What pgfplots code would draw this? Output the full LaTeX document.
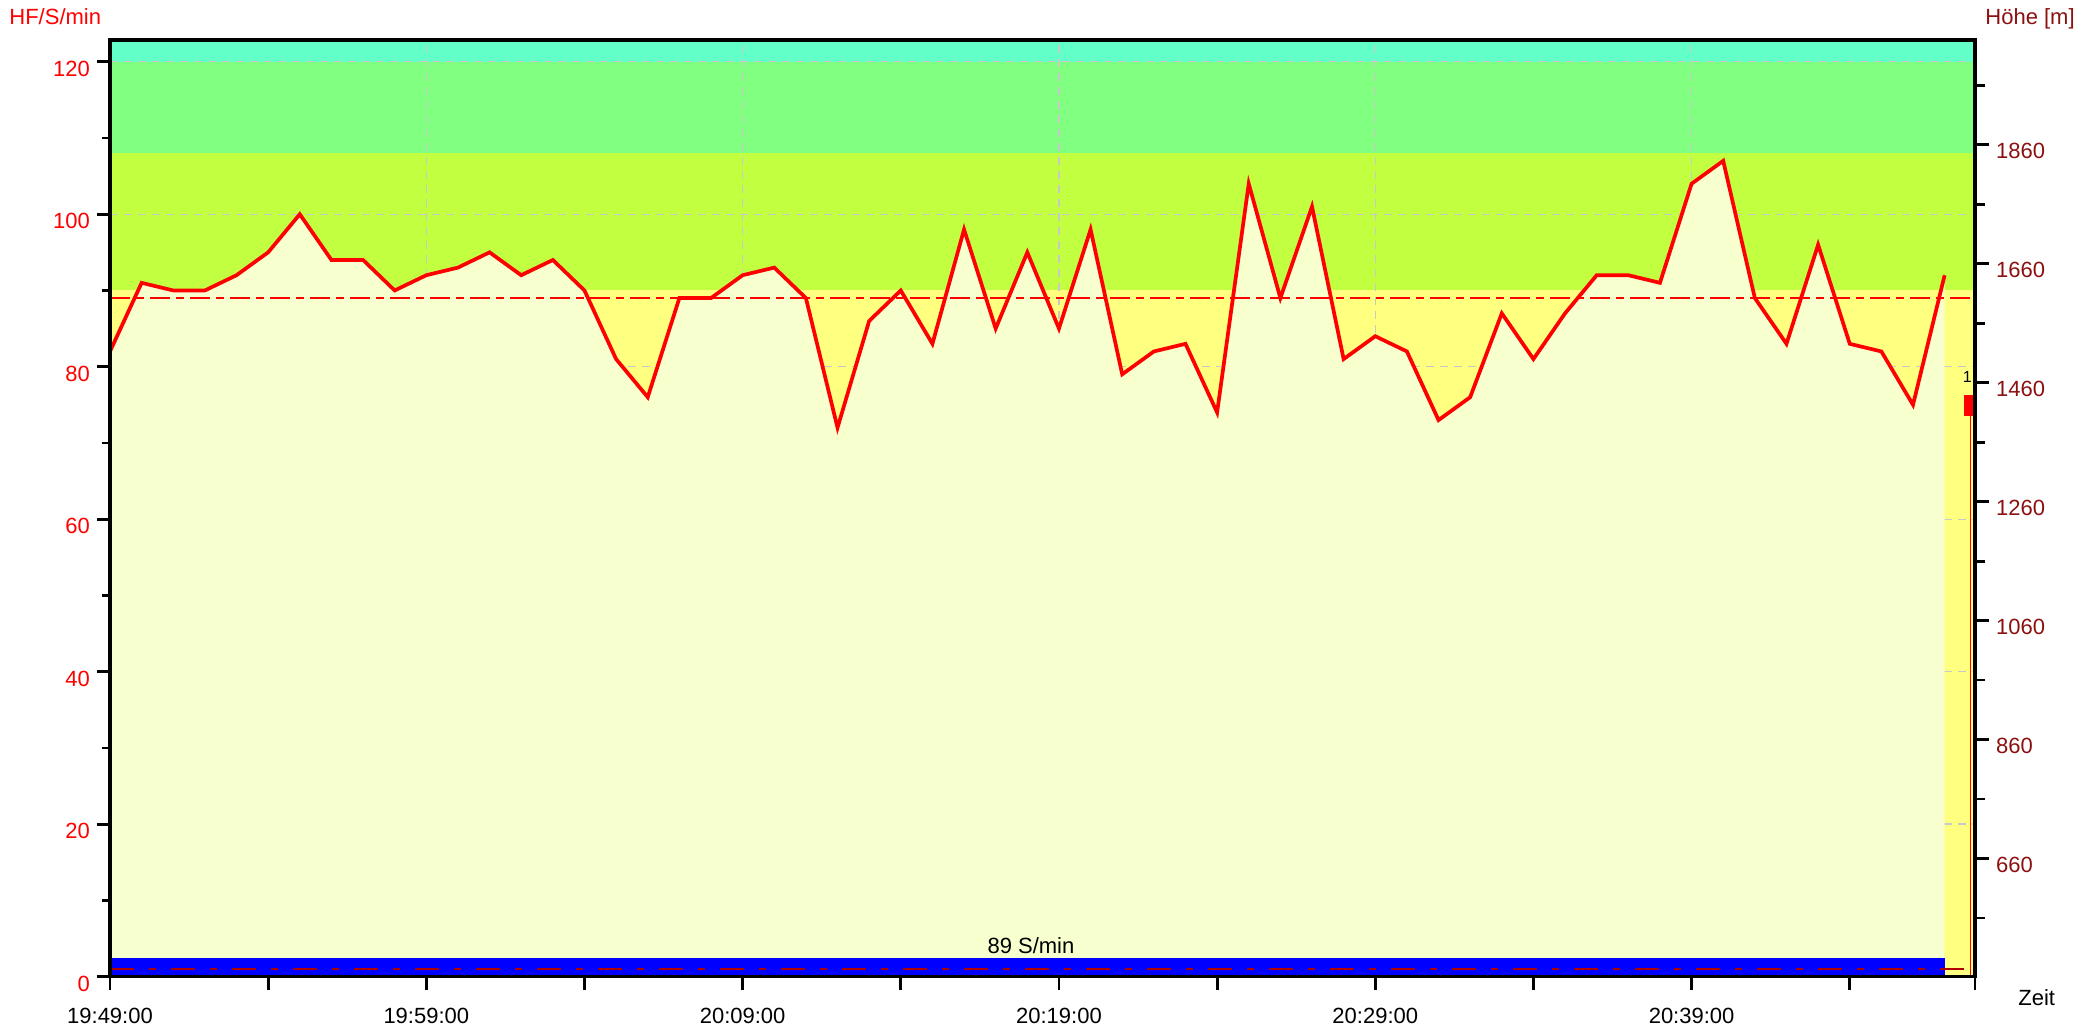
\documentclass[border=0pt]{standalone}
\usepackage{fontspec}
\setmainfont{Liberation Sans}
\usepackage{pgfplots}
\usepackage{pgfplotstable}
\pgfplotsset{compat=1.18}
\definecolor{zcyan}{RGB}{98,255,200}
\definecolor{zgreen}{RGB}{128,255,128}
\definecolor{zygreen}{RGB}{194,255,64}
\definecolor{zyellow}{RGB}{255,255,128}
\definecolor{zpale}{RGB}{247,255,206}
\definecolor{gridc}{RGB}{200,200,200}
\definecolor{altred}{RGB}{140,16,16}
\definecolor{altdash}{RGB}{175,0,0}

\pgfplotstableread{
t hf
0 82
1 91
2 90
3 90
4 92
5 95
6 100
7 94
8 94
9 90
10 92
11 93
12 95
13 92
14 94
15 90
16 81
17 76
18 89
19 89
20 92
21 93
22 89
23 72
24 86
25 90
26 83
27 98
28 85
29 95
30 85
31 98
32 79
33 82
34 83
35 74
36 104
37 89
38 101
39 81
40 84
41 82
42 73
43 76
44 87
45 81
46 87
47 92
48 92
49 91
50 104
51 107
52 89
53 83
54 96
55 83
56 82
57 75
58 92
}\hrdata

\newcommand{\lblfont}{\fontsize{11}{13}\selectfont}

\begin{document}
\begin{tikzpicture}
\path[use as bounding box] (-55pt,-24.65pt) rectangle (994pt,488.35pt);
\begin{axis}[
  name=A, at={(0pt,0pt)}, anchor=south west,
  scale only axis, width=932.5pt, height=468.35pt,
  xmin=0, xmax=58.96, ymin=0, ymax=122.85,
  xtick={0,10,20,30,40,50},
  xticklabels={19:49:00,19:59:00,20:09:00,20:19:00,20:29:00,20:39:00},
  extra x ticks={5,15,25,35,45,55,58.96}, extra x tick labels={},
  ytick={0,20,...,120}, minor ytick={10,30,...,110},
  xtick pos=bottom, ytick pos=left, tick align=outside,
  major tick length=6.5pt, minor tick length=4pt,
  tick style={black, line width=1.4pt},
  axis line style={black, line width=1.6pt},
  tick label style={font=\lblfont},
  yticklabel style={red, yshift=-3.5pt},
  xticklabel style={black, yshift=-5.5pt},
  /pgf/number format/assume math mode=true,
  /pgf/number format/1000 sep={},
]
% zone bands
\addplot[draw=none, fill=zcyan] coordinates {(-1,130) (61,130)} \closedcycle;
\addplot[draw=none, fill=zgreen] coordinates {(-1,120) (61,120)} \closedcycle;
\addplot[draw=none, fill=zygreen] coordinates {(-1,108) (61,108)} \closedcycle;
\addplot[draw=none, fill=zyellow] coordinates {(-1,90) (61,90)} \closedcycle;
% grid
\pgfplotsinvokeforeach{20,40,60,80,100,120}{
  \addplot[gridc, line width=0.7pt, dash pattern=on 4pt off 3pt] coordinates {(0,#1) (58.96,#1)};
}
\pgfplotsinvokeforeach{10,20,30,40,50}{
  \addplot[gridc, line width=0.7pt, dash pattern=on 4pt off 3pt] coordinates {(#1,0) (#1,122.85)};
}
% area under HR
\addplot[draw=none, fill=zpale] table[x=t, y=hf] {\hrdata} \closedcycle;
% average HR line
\addplot[red, line width=0.7pt, dash pattern=on 10pt off 3pt on 4pt off 3pt] coordinates {(0,89) (58.96,89)};
% HR curve
\addplot[red, line width=1.85pt] table[x=t, y=hf] {\hrdata};
% lap marker
\addplot[red, line width=0.5pt] coordinates {(58.82,0) (58.82,74)};
\addplot[draw=none, fill=red] coordinates {(58.62,73.5) (58.94,73.5) (58.94,76.3) (58.62,76.3)} --cycle;
\node[font=\fontsize{8}{9}\selectfont, inner sep=0] at (axis cs:58.72,78.6) {1};
\end{axis}

\begin{axis}[
  at={(0pt,0pt)}, anchor=south west,
  scale only axis, width=932.5pt, height=468.35pt,
  xmin=0, xmax=58.96, ymin=461.3, ymax=2036.2,
  xtick=\empty,
  ytick={660,860,...,1860}, minor ytick={560,760,...,1960},
  ytick pos=right, yticklabel pos=right, tick align=outside,
  major tick length=7pt, minor tick length=5pt,
  tick style={black, line width=1.4pt},
  axis line style={black, line width=1.6pt},
  axis on top,
  tick label style={font=\lblfont},
  yticklabel style={altred, yshift=-3pt},
  /pgf/number format/assume math mode=true,
  /pgf/number format/1000 sep={},
]
\addplot[draw=none, fill=blue] coordinates {(0,493) (58,493)} \closedcycle;
\addplot[altdash, line width=0.7pt, dash pattern=on 12pt off 7.5pt on 3.5pt off 7.5pt] coordinates {(0,474) (58.84,474)};
\node[anchor=base west, inner sep=0, font=\lblfont] at (axis cs:27.73,499.5) {89 S/min};
\end{axis}

\node[anchor=base west, inner sep=0, text=red, font=\lblfont] at (-50.5pt,475.85pt) {HF/S/min};
\node[anchor=base west, inner sep=0, text=altred, font=\lblfont] at (937.5pt,475.85pt) {Höhe [m]};
\node[anchor=base west, inner sep=0, font=\lblfont] at (954pt,-14.5pt) {Zeit};
\end{tikzpicture}
\end{document}
